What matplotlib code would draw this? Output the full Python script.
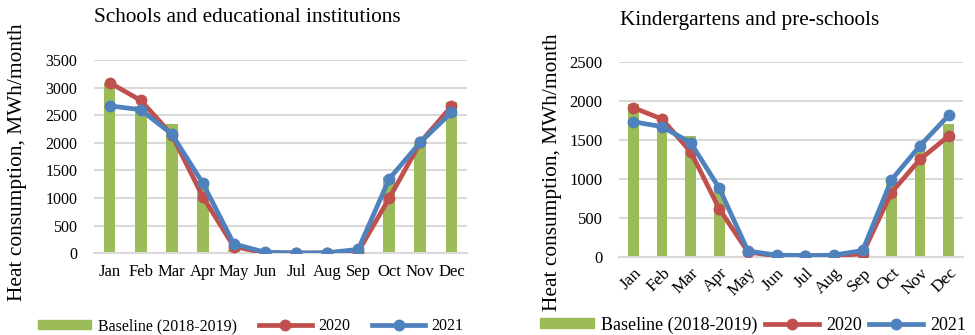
import matplotlib
matplotlib.use("Agg")
import matplotlib.pyplot as plt
from matplotlib.patches import Patch
from matplotlib.lines import Line2D
import numpy as np

months = ["Jan", "Feb", "Mar", "Apr", "May", "Jun", "Jul", "Aug", "Sep", "Oct", "Nov", "Dec"]

school_baseline = [3080, 2670, 2350, 1310, 60, 0, 0, 0, 20, 1390, 1980, 2740]
school_2020 = [3090, 2770, 2150, 1025, 120, 10, 5, 5, 30, 1000, 2010, 2660]
school_2021 = [2670, 2600, 2160, 1270, 170, 20, 5, 10, 70, 1350, 2010, 2550]

kinder_baseline = [1960, 1690, 1550, 920, 60, 0, 0, 0, 30, 1000, 1390, 1700]
kinder_2020 = [1910, 1765, 1345, 612, 60, 10, 10, 5, 40, 821, 1248, 1547]
kinder_2021 = [1730, 1667, 1462, 877, 73, 20, 15, 20, 80, 983, 1423, 1812]

titles = ["Schools and educational institutions", "Kindergartens and pre-schools"]
ylabel = "Heat consumption, MWh/month"
legend_labels = ["Baseline (2018-2019)", "2020", "2021"]

GREEN = "#9BBB59"
RED = "#C0504D"
BLUE = "#4F81BD"
GRID = "#D9D9D9"

plt.rcParams['font.family'] = ['Liberation Serif', 'DejaVu Serif']

W, H = 975, 335
fig = plt.figure(figsize=(W / 100, H / 100), dpi=100)


def px_axes(x0, y0, x1, y1):
    return fig.add_axes([x0 / W, (H - y1) / H, (x1 - x0) / W, (y1 - y0) / H])


def draw(ax, base, s20, s21, ymax, step, rotate):
    x = np.arange(len(months))
    ax.bar(x, base, width=0.38, color=GREEN, zorder=2)
    ax.plot(x, s20, color=RED, lw=3.4, marker='o', ms=7.5, zorder=3)
    ax.plot(x, s21, color=BLUE, lw=3.4, marker='o', ms=7.5, zorder=4)
    ax.set_xlim(-0.5, len(months) - 0.5)
    ax.set_ylim(0, ymax)
    ax.set_yticks(np.arange(0, ymax + 1, step))
    ax.set_xticks(x)
    if rotate:
        ax.set_xticklabels(months, rotation=45, ha='right', rotation_mode='anchor', fontsize=12.5)
    else:
        ax.set_xticklabels(months, fontsize=12)
    ax.grid(axis='y', color=GRID, lw=1.5, zorder=0)
    ax.set_axisbelow(True)
    for s in ['top', 'right', 'left']:
        ax.spines[s].set_visible(False)
    ax.spines['bottom'].set_color(GRID)
    ax.spines['bottom'].set_linewidth(1.5)
    ax.tick_params(axis='both', length=0)
    ax.tick_params(axis='y', pad=12, labelsize=12 if rotate else 11.5)
    ax.tick_params(axis='x', pad=8 if not rotate else 6)


ax1 = px_axes(94, 60, 467, 253.3)
draw(ax1, school_baseline, school_2020, school_2021, 3500, 500, False)
ax2 = px_axes(619, 61.7, 963, 256.7)
draw(ax2, kinder_baseline, kinder_2020, kinder_2021, 2500, 500, True)

fig.text(247 / W, 1 - 18 / H, titles[0], ha='center', va='center', fontsize=15.3)
fig.text(750 / W, 1 - 20 / H, titles[1], ha='center', va='center', fontsize=15.3)
fig.text(18 / W, 1 - 162 / H, ylabel, rotation=90, ha='center', va='center', fontsize=15.4)
fig.text(553 / W, 1 - 172 / H, ylabel, rotation=90, ha='center', va='center', fontsize=15.4)

handles = [Patch(color=GREEN),
           Line2D([], [], color=RED, lw=3.4, marker='o', ms=7.5),
           Line2D([], [], color=BLUE, lw=3.4, marker='o', ms=7.5)]

fig.legend(handles, legend_labels, loc='center', bbox_to_anchor=(251 / W, 9 / H), ncol=3,
           frameon=False, fontsize=11.5, handlelength=3.3, handleheight=0.5,
           handletextpad=0.4, columnspacing=1.4, borderpad=0, borderaxespad=0)
fig.legend(handles, legend_labels, loc='center', bbox_to_anchor=(753 / W, 10 / H), ncol=3,
           frameon=False, fontsize=13, handlelength=3.0, handleheight=0.5,
           handletextpad=0.4, columnspacing=0.4, borderpad=0, borderaxespad=0)

fig.savefig("out.png", dpi=100)
